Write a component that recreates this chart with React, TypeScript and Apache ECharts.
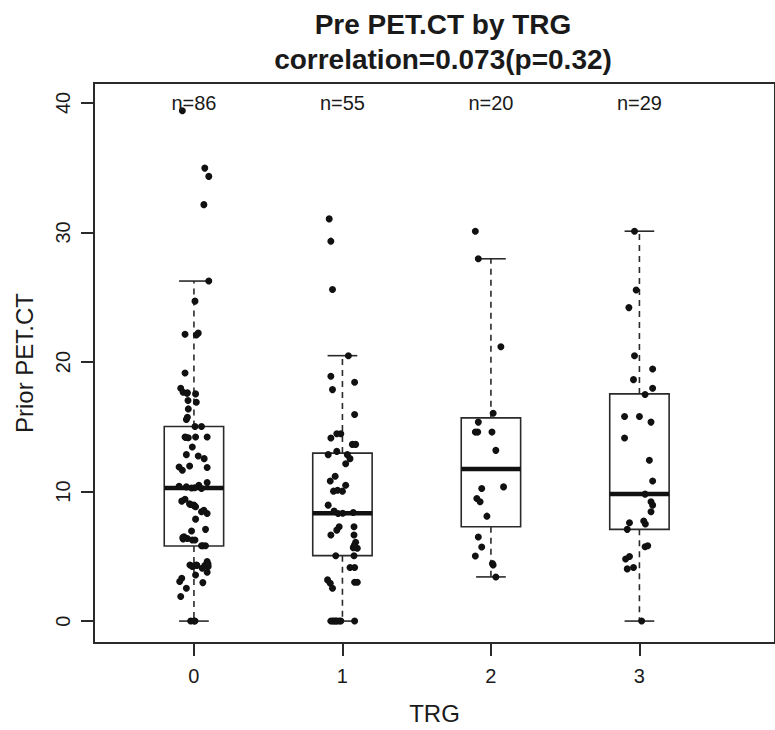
import React, { useEffect, useRef } from "react";
import * as echarts from "echarts";

const FONT = "'Liberation Sans', Arial, Helvetica, sans-serif";

const groups = [0, 1, 2, 3];
const nLabels = ["n=86", "n=55", "n=20", "n=29"];
const yTicks = [0, 10, 20, 30, 40];

// box statistics per TRG group
const boxLow = [0, 0, 3.41, 0];
const boxQ1 = [5.8, 5.05, 7.28, 7.08];
const boxMedian = [10.28, 8.33, 11.74, 9.82];
const boxQ3 = [15.02, 12.97, 15.69, 17.54];
const boxHigh = [26.25, 20.49, 27.97, 30.1];

// jittered points: [horizontal jitter, Prior PET.CT]
const trg0Points: [number, number][] = [
  [-0.078, 39.4], [0.073, 34.97], [0.1, 34.33], [0.067, 32.15], [0.1, 26.25], [0.007, 24.7], [-0.06, 22.15], [0.016, 22.08], [0.029, 22.23],
  [-0.06, 19.15], [-0.089, 17.98], [-0.073, 17.67], [-0.047, 17.59], [0.011, 17.54], [-0.04, 17.03], [0.016, 16.9], [-0.038, 16.38], [-0.044, 15.74], [-0.051, 15.56],
  [0.007, 15.02], [0.051, 15.02], [-0.06, 14.21], [-0.038, 14.15], [0.011, 14.21], [0.089, 14.21], [-0.011, 13.44], [-0.051, 12.85], [0.029, 12.74], [0.069, 12.54],
  [-0.1, 11.9], [-0.078, 11.64], [-0.029, 11.97], [0.089, 11.85], [0.089, 10.69], [-0.1, 10.41], [-0.051, 10.36], [-0.016, 10.28], [0.033, 10.49], [0.051, 10.23],
  [-0.082, 9.26], [-0.06, 9.41], [-0.022, 9.0], [0.0, 8.95], [0.011, 8.82], [0.051, 8.44], [0.089, 8.31], [0.067, 8.56], [0.011, 7.87], [0.078, 7.08],
  [-0.016, 6.95], [-0.067, 6.51], [-0.073, 6.33], [-0.044, 6.38], [-0.011, 6.26], [0.007, 6.26], [0.051, 5.82], [0.078, 5.82],
  [-0.027, 4.33], [-0.011, 4.21], [0.016, 4.33], [0.089, 4.59], [0.096, 4.21], [0.056, 4.08], [0.073, 4.28], [0.011, 3.56], [0.089, 3.77],
  [-0.082, 3.31], [-0.096, 3.05], [0.06, 2.97], [-0.051, 2.54], [-0.089, 1.9], [-0.022, 0], [0.007, 0],
  [-0.044, 17.62], [0.005, 10.3], [-0.07, 6.4], [0.08, 4.3], [-0.005, 4.25], [0.02, 4.3], [-0.03, 9.05], [0.002, 8.9], [-0.055, 14.18],
  [0.06, 5.82], [-0.075, 6.45], [0.095, 4.4], [0.0, 0],
];
const trg1Points: [number, number][] = [
  [-0.089, 31.05], [-0.078, 29.33], [-0.067, 25.6], [0.04, 20.49],
  [-0.078, 18.9], [-0.067, 17.87], [0.082, 18.44], [0.082, 15.95], [-0.078, 14.13], [-0.038, 14.46], [-0.011, 14.46], [0.067, 13.64], [0.089, 13.64], [-0.096, 12.85],
  [-0.038, 13.1], [0.033, 12.85], [0.051, 12.54], [0.022, 12.15], [-0.049, 11.18], [-0.082, 10.82], [-0.06, 10.03], [-0.033, 10.1], [0.0, 10.03], [0.022, 10.49],
  [-0.096, 8.95], [-0.056, 8.49], [-0.029, 8.31], [0.073, 8.38], [-0.022, 7.28], [-0.038, 7.02], [-0.078, 6.64], [0.078, 7.28], [0.078, 6.64], [0.089, 6.08],
  [0.073, 5.67], [0.1, 5.62], [-0.045, 5.05], [0.078, 5.05], [0.051, 4.13], [0.082, 4.13], [-0.1, 3.18], [-0.082, 2.92], [-0.067, 2.54], [0.082, 3.0], [0.1, 3.0],
  [-0.078, 0], [-0.056, 0], [-0.038, 0], [-0.022, 0], [-0.011, 0], [0.082, 0],
  [-0.065, 0], [-0.045, 0], [0.002, 8.33], [0.08, 5.85],
];
const trg2Points: [number, number][] = [
  [-0.105, 30.1], [-0.085, 27.97], [0.067, 21.18], [0.015, 16.05], [-0.085, 15.36], [-0.105, 14.59], [-0.089, 14.59], [0.007, 14.59],
  [0.033, 13.18], [-0.062, 10.23], [0.085, 10.36], [-0.095, 9.46], [-0.073, 9.21], [-0.027, 8.1], [-0.085, 6.49], [-0.062, 5.72],
  [-0.105, 5.03], [0.015, 4.33], [0.033, 3.41], [0.01, 4.45],
];
const trg3Points: [number, number][] = [
  [-0.033, 30.1], [-0.022, 25.56], [-0.071, 24.2], [-0.033, 20.49], [0.089, 19.46], [-0.04, 18.64], [0.089, 17.97], [0.038, 17.49],
  [-0.1, 15.8], [0.0, 15.8], [0.078, 15.36], [-0.1, 14.13], [0.067, 12.41], [0.089, 10.82], [0.038, 9.8], [0.078, 9.21], [0.089, 8.95],
  [0.078, 8.44], [-0.067, 7.59], [0.029, 7.72], [0.04, 7.49], [-0.082, 7.08], [0.038, 5.74], [0.056, 5.82], [-0.093, 4.79],
  [-0.067, 4.98], [-0.082, 4.03], [-0.04, 4.13], [0.015, 0],
];
const groupPoints = [trg0Points, trg1Points, trg2Points, trg3Points];

const LINE = "#2a2a2a";
const TEXT = "#1a1a1a";

export default function App() {
  const ref = useRef<HTMLDivElement>(null);
  useEffect(() => {
    if (!ref.current) return;
    const chart = echarts.init(ref.current, null, { renderer: "svg" });

    const boxData = groups.map((g, i) => [g, boxLow[i], boxQ1[i], boxMedian[i], boxQ3[i], boxHigh[i]]);
    const pointData: number[][] = [];
    groupPoints.forEach((pts, gi) => {
      pts.forEach(([j, v]) => pointData.push([groups[gi] + j, v]));
    });
    const labelData = groups.map((g) => [g, 40]);

    const option: any = {
      animation: false,
      backgroundColor: "#ffffff",
      title: {
        text: "Pre PET.CT by TRG\ncorrelation=0.073(p=0.32)",
        left: 438,
        top: 2,
        textAlign: "center",
        textStyle: { fontSize: 28, fontWeight: "bold", lineHeight: 35, fontFamily: FONT, color: TEXT },
      },
      grid: {
        left: 94,
        top: 83,
        width: 688,
        height: 562,
        show: true,
        borderColor: LINE,
        borderWidth: 2,
        backgroundColor: "transparent",
      },
      xAxis: {
        type: "value",
        min: -0.673,
        max: 3.913,
        name: "TRG",
        nameLocation: "middle",
        nameGap: 58,
        nameTextStyle: { fontSize: 24, fontFamily: FONT, color: TEXT },
        splitLine: { show: false },
        axisLine: { show: false, onZero: false },
        axisTick: { show: true, length: 13, customValues: groups, lineStyle: { color: LINE, width: 2 } },
        axisLabel: { customValues: groups, margin: 23, fontSize: 20, fontFamily: FONT, color: TEXT },
      },
      yAxis: {
        type: "value",
        min: -1.692,
        max: 41.54,
        name: "Prior PET.CT",
        nameLocation: "middle",
        nameGap: 58,
        nameTextStyle: { fontSize: 24, fontFamily: FONT, color: TEXT },
        splitLine: { show: false },
        axisLine: { show: false, onZero: false },
        axisTick: { show: true, length: 13, customValues: yTicks, lineStyle: { color: LINE, width: 2 } },
        axisLabel: { customValues: yTicks, rotate: 90, margin: 21, fontSize: 20, fontFamily: FONT, color: TEXT },
      },
      series: [
        {
          type: "custom",
          z: 2,
          data: boxData,
          encode: { x: 0, y: [1, 2, 3, 4, 5] },
          renderItem: (params: any, api: any) => {
            const x = api.value(0);
            const lo = api.coord([x, api.value(1)]);
            const q1 = api.coord([x, api.value(2)]);
            const md = api.coord([x, api.value(3)]);
            const q3 = api.coord([x, api.value(4)]);
            const hi = api.coord([x, api.value(5)]);
            const halfBox = api.size([0.4, 0])[0] / 2;
            const halfCap = api.size([0.2, 0])[0] / 2;
            const cx = q1[0];
            const dash = { stroke: LINE, lineWidth: 1.6, lineDash: [6, 5], fill: "none" };
            const solid = { stroke: LINE, lineWidth: 1.6, fill: "none" };
            return {
              type: "group",
              children: [
                { type: "line", shape: { x1: cx, y1: q3[1], x2: cx, y2: hi[1] }, style: dash },
                { type: "line", shape: { x1: cx, y1: q1[1], x2: cx, y2: lo[1] }, style: dash },
                { type: "line", shape: { x1: cx - halfCap, y1: hi[1], x2: cx + halfCap, y2: hi[1] }, style: solid },
                { type: "line", shape: { x1: cx - halfCap, y1: lo[1], x2: cx + halfCap, y2: lo[1] }, style: solid },
                { type: "rect", shape: { x: cx - halfBox, y: q3[1], width: halfBox * 2, height: q1[1] - q3[1] }, style: solid },
                { type: "line", shape: { x1: cx - halfBox, y1: md[1], x2: cx + halfBox, y2: md[1] }, style: { stroke: "#111", lineWidth: 4.5 } },
              ],
            };
          },
        },
        {
          type: "scatter",
          z: 3,
          data: pointData,
          symbol: "circle",
          symbolSize: 7,
          itemStyle: { color: "#111", borderWidth: 0, opacity: 1 },
        },
        {
          type: "custom",
          z: 4,
          data: labelData,
          encode: { x: 0, y: 1 },
          renderItem: (params: any, api: any) => {
            const p = api.coord([api.value(0), api.value(1)]);
            return {
              type: "text",
              x: p[0],
              y: p[1],
              style: {
                text: nLabels[params.dataIndex],
                fontSize: 20,
                fontFamily: FONT,
                fill: TEXT,
                align: "center",
                verticalAlign: "middle",
              },
            };
          },
        },
      ],
    };
    chart.setOption(option);
    return () => chart.dispose();
  }, []);
  return (
    <div
      ref={ref}
      style={{ position: "absolute", left: 0, top: 0, width: 775, height: 730, background: "#fff" }}
    />
  );
}
